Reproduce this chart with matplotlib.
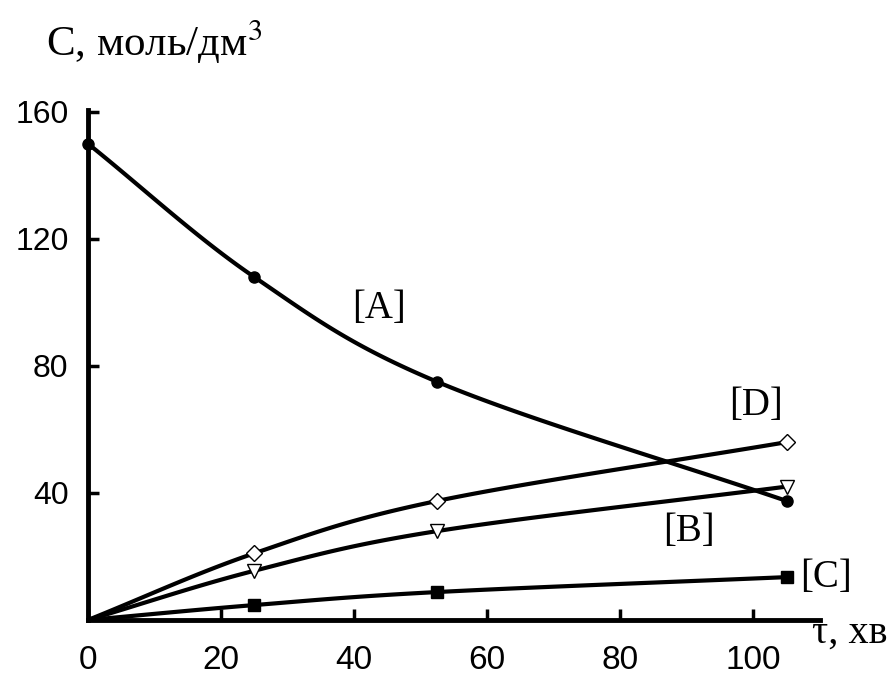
import matplotlib.pyplot as plt
import numpy as np

# час, хв
t = [0, 25, 52.5, 105]
# концентрації, моль/дм3
conc_a = [150, 108, 75, 37.5]
conc_d = [0, 21, 37.5, 56]
conc_b = [0, 15.5, 28, 42]
conc_c = [0, 4.7, 8.8, 13.5]

x_ticks = [0, 20, 40, 60, 80, 100]
y_ticks = [40, 80, 120, 160]


def smooth(x, y, n=40):
    # згладжена лінія як в Excel (Catmull-Rom), лише для малювання
    x = np.asarray(x, float)
    y = np.asarray(y, float)
    px = np.concatenate([[2 * x[0] - x[1]], x, [2 * x[-1] - x[-2]]])
    py = np.concatenate([[2 * y[0] - y[1]], y, [2 * y[-1] - y[-2]]])
    s = np.linspace(0, 1, n)
    xs, ys = [], []
    for i in range(1, len(px) - 2):
        for p, out in ((px, xs), (py, ys)):
            p0, p1, p2, p3 = p[i - 1], p[i], p[i + 1], p[i + 2]
            out.append(0.5 * (2 * p1 + (-p0 + p2) * s
                              + (2 * p0 - 5 * p1 + 4 * p2 - p3) * s ** 2
                              + (-p0 + 3 * p1 - 3 * p2 + p3) * s ** 3))
    return np.concatenate(xs), np.concatenate(ys)


fig = plt.figure(figsize=(8.94, 6.75), dpi=100)
ax = fig.add_axes([0.0984, 0.0815, 0.8186, 0.7555])

lw = 3.0
for ys, mk, fc, ms in [
    (conc_a, "o", "black", 8),
    (conc_d, "D", "white", 8),
    (conc_b, "v", "white", 10),
    (conc_c, "s", "black", 8),
]:
    sx, sy = smooth(t, ys)
    ax.plot(sx, sy, color="black", lw=lw, zorder=2)
    start = 0 if ys is conc_a else 1
    ax.plot(t[start:], ys[start:], ls="none", marker=mk, mfc=fc, mec="black",
            ms=ms, mew=1.0, zorder=3, clip_on=False)

ax.set_xlim(0, 110)
ax.set_ylim(0, 160.6)
ax.set_xticks(x_ticks)
ax.set_yticks(y_ticks)
for side in ["top", "right"]:
    ax.spines[side].set_visible(False)
for side in ["left", "bottom"]:
    ax.spines[side].set_linewidth(3.5)
ax.tick_params(axis="both", direction="in", length=8, width=2.5)
ax.tick_params(axis="x", labelsize=24, pad=18)
ax.tick_params(axis="y", labelsize=23, pad=14)
for lab in ax.get_xticklabels() + ax.get_yticklabels():
    lab.set_family("Liberation Sans")

serif = "Liberation Serif"
fig.text(46 / 894, 1 - 56 / 675, "C, моль/дм$^3$", fontsize=31, family=serif,
         va="baseline", ha="left", math_fontfamily="stix")
fig.text(812 / 894, 1 - 633 / 675, "τ, хв", fontsize=29, family=serif,
         va="center", ha="left")
ax.text(43.7, 98, "[A]", fontsize=28, family=serif, ha="center", va="center")
ax.text(100.4, 67.5, "[D]", fontsize=28, family=serif, ha="center", va="center")
ax.text(90.4, 28, "[B]", fontsize=28, family=serif, ha="center", va="center")
ax.text(107, 13.5, "[C]", fontsize=28, family=serif, ha="left", va="center")

fig.savefig("out.png", dpi=100)
